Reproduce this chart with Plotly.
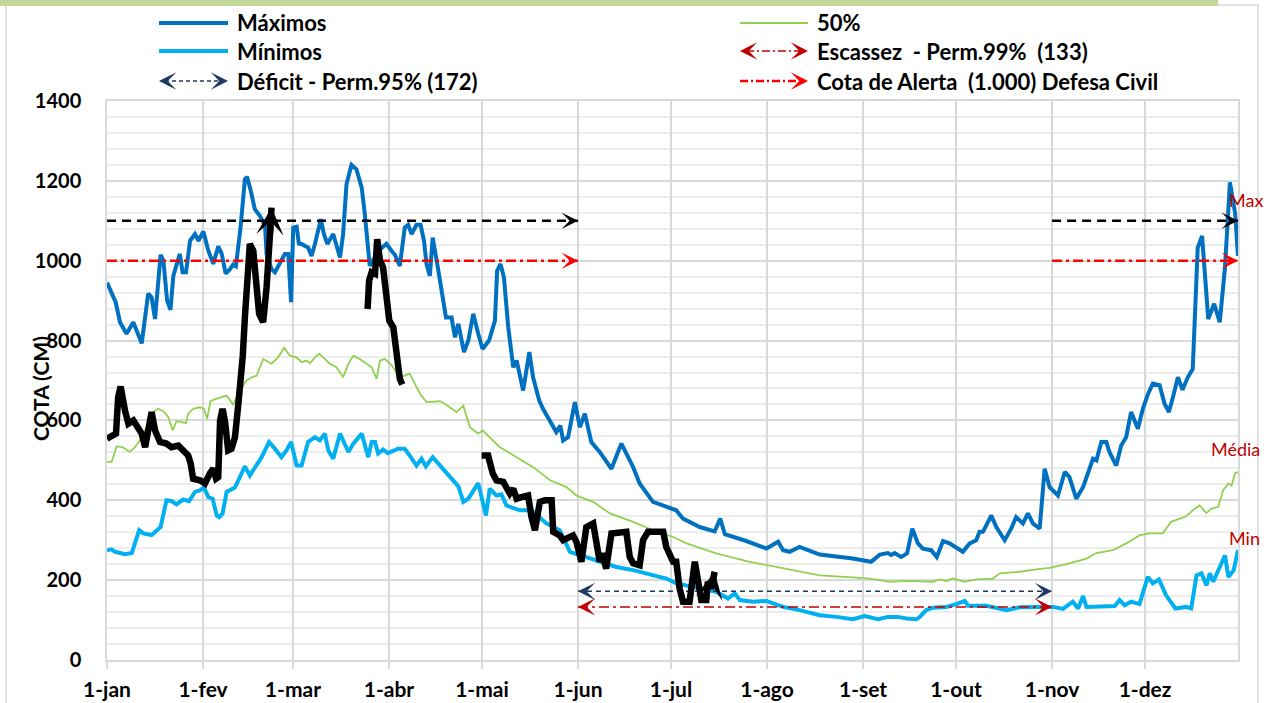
import pandas as pd
import plotly.graph_objects as go

# ---------------- DATA ----------------
ANO_BASE = "2020-01-01"
meses_rotulo = ["1-jan", "1-fev", "1-mar", "1-abr", "1-mai", "1-jun",
                "1-jul", "1-ago", "1-set", "1-out", "1-nov", "1-dez"]
meses_inicio = ["2020-01-01", "2020-02-01", "2020-03-01", "2020-04-01", "2020-05-01", "2020-06-01",
                "2020-07-01", "2020-08-01", "2020-09-01", "2020-10-01", "2020-11-01", "2020-12-01"]

# Máximos (dia do ano, cota cm)
max_dia = [0, 2, 2.8, 4.2, 6.3, 8.5, 11.2, 13.3, 14.4, 15.5, 17.3, 18.2, 19.4, 20.5, 21.4, 23.5, 24.4, 25.5,
           26.8, 28.4, 29.5, 31.1, 32.7, 34.3, 35.9, 37, 38.3, 39.7, 40.7, 41.6, 43.1, 44.5, 45.2, 46.4, 47.7,
           49.4, 51, 51.5, 53.1, 54.2, 55.8, 57.4, 58.5, 59.4, 60.1, 61.2, 61.9, 62.8, 63.9, 64.9, 66, 67.1, 69,
           70, 71.1, 73, 75.2, 76.2, 77.3, 78.9, 80.5, 82.2, 83.2, 84.3, 84.8, 88.1, 90.2, 91.8, 92.9, 94.5, 96.1,
           97.2, 98.3, 99.9, 101.2, 102.3, 103.1, 104.2, 105.1, 106.4, 108, 109.4, 111.2, 112.3, 113.4, 115.2,
           116.6, 118.2, 119.8, 121.2, 123.3, 125.2, 125.9, 127, 128.1, 129.5, 131.1, 132.2, 134.3, 136.3, 137.5,
           139.5, 140.7, 145, 146.3, 147.2, 148.8, 151, 152.6, 154.2, 156.3, 159, 162.8, 166, 169.8, 171.9,
           176.2, 180.5, 183.7, 185.9, 191.3, 196.1, 197.9, 199.4, 206.3, 212.8, 216.6, 218.2, 220.3, 223.5,
           230, 240.7, 246.6, 249.4, 252, 253.1, 254.2, 256.3, 258.2, 259.9, 261.7, 263.3, 266, 267.8, 269.8,
           271.9, 276.2, 278.4, 280.5, 281.6, 282.7, 285.4, 287, 289.7, 291.8, 293.4, 295.6, 297.2, 298.8, 301,
           302.6, 304.2, 306.9, 309.1, 310.6, 312.8, 315, 318.2, 319.3, 320.9, 322.5, 323.5, 325.7, 327.3,
           328.9, 330.5, 332.7, 334.3, 335.9, 337.5, 339.7, 341.3, 342.7, 344, 345.6, 347.1, 348.8, 350.4,
           351.1, 352, 353.4, 354.3, 355.4, 357.3, 359.1, 360.8, 362.4, 364.1, 365]
max_cota = [945, 908, 896, 846, 817, 846, 793, 918, 908, 854, 1015, 1000, 900, 877, 962, 1017, 971, 971,
            1050, 1067, 1050, 1073, 1025, 992, 1036, 1018, 968, 979, 990, 986, 1083, 1204, 1210, 1175, 1129,
            1112, 1087, 1017, 979, 971, 992, 1017, 1017, 896, 1083, 1085, 1043, 1042, 1037, 1033, 1012, 1042, 1104,
            1067, 1042, 1067, 1008, 1067, 1192, 1240, 1229, 1183, 1117, 1017, 987, 1029, 1042, 1025, 1015, 987, 1083,
            1090, 1067, 1090, 1090, 1050, 992, 962, 1058, 1000, 917, 858, 858, 808, 842, 771,
            800, 867, 817, 779, 800, 850, 975, 992, 958, 833, 733, 750, 675, 771, 708,
            650, 629, 571, 587, 550, 558, 646, 583, 617, 546, 521, 479, 542, 483, 442,
            396, 383, 375, 354, 333, 322, 354, 315, 298, 279, 296, 275, 271, 283,
            264, 254, 246, 264, 268, 263, 268, 258, 267, 329, 292, 279, 275, 258, 298,
            292, 271, 292, 300, 321, 321, 362, 333, 300, 329, 358, 342, 367, 342, 329,
            479, 433, 412, 471, 458, 404, 433, 504, 500, 546, 546, 521, 487, 537,
            558, 621, 579, 629, 665, 692, 688, 642, 621, 658, 708, 677, 708, 729,
            858, 1033, 1062, 967, 854, 892, 846, 983, 1196, 1117, 1012]

# Mínimos
min_dia = [0, 1.5, 2.6, 5.8, 8, 9, 10.4, 11.7, 14.4, 17.3, 19.2, 20.8, 22.4, 24.6, 26.5, 28.4, 30, 31.3, 32.7,
           34.1, 35.4, 36.2, 37.3, 38.6, 41.3, 44.5, 46.1, 49.9, 52.3, 54.2, 56.3, 57.9, 59.4, 61.2, 62.8, 64.9,
           67.1, 68.7, 70.3, 71.4, 73, 75.2, 77.9, 79.5, 82.2, 84.3, 85.4, 86.5, 87.5, 89.1, 90.7, 93.9, 96.1,
           97.7, 99.9, 101.5, 102.9, 105.1, 108.5, 113.4, 115, 116.6, 119.8, 122.3, 123.5, 125.7, 127.3, 128.9,
           133.2, 137, 141.8, 146.1, 149.4, 154.7, 159, 164.4, 169.8, 176.2, 180.5, 183.7, 191.3, 196.6, 200.4,
           202.6, 204.2, 208.5, 212.8, 218.2, 223.5, 230, 235.4, 240.7, 244.5, 248.8, 252, 255.3, 258, 261.2,
           262.3, 264.4, 266.6, 270.9, 274.1, 276.8, 277.9, 283.8, 290.3, 294.5, 299.9, 305.3, 308.5, 311.7,
           313.4, 315, 316.1, 321.4, 325.2, 326.8, 328.4, 330.5, 333.2, 335.9, 337.5, 339.5, 341.8, 344.8,
           348.3, 349.9, 351.6, 353.2, 354.8, 355.9, 357, 360.8, 361.9, 363.6, 365]
min_cota = [275, 277, 271, 265, 268, 292, 325, 317, 313, 333, 400, 398, 390, 402, 398, 421, 425, 432, 408,
            404, 362, 358, 367, 421, 432, 485, 462, 508, 546, 529, 508, 525, 546, 487, 487, 546,
            558, 550, 567, 525, 504, 567, 521, 542, 567, 508, 546, 546, 517, 527, 518, 529, 529,
            512, 487, 504, 485, 508, 477, 435, 396, 404, 443, 362, 429, 412, 415, 387,
            375, 375, 342, 325, 271, 258, 246, 233, 225, 212, 204, 192, 179, 171, 154,
            167, 150, 146, 148, 133, 125, 112, 108, 102, 110, 102, 108, 108, 104, 102,
            108, 125, 131, 133, 140, 148, 136, 136, 125, 132, 133, 133, 128, 146,
            129, 160, 133, 133, 135, 150, 137, 146, 140, 208, 192, 202, 162, 129,
            133, 129, 212, 217, 187, 217, 196, 262, 208, 225, 275]

# 50%
med_dia = [0, 1.5, 3.1, 5, 7.4, 9, 10.6, 12.8, 14.9, 16.5, 18.2, 19.8, 21.2, 22.4, 24, 25.5, 26.2, 27.8, 30,
           31.3, 32.3, 33.4, 35.2, 37.3, 38.6, 40.7, 42.9, 45, 46.7, 48.3, 50.4, 53.1, 55.2, 57.2, 59, 61.2,
           62.8, 64.4, 65.5, 67.1, 68.5, 70.3, 71.9, 74.1, 76.2, 77.9, 79.5, 81.6, 83.8, 85.4, 87, 88.1, 89.7,
           91.9, 94.5, 97.7, 101, 103.1, 107.4, 109, 112.8, 115, 117.1, 119.8, 121.2, 124.6, 126.8, 132.2,
           137.5, 143, 148.3, 151.5, 156.9, 162.3, 169.8, 176.2, 182.7, 187, 196.6, 207.4, 218.2, 223.5, 230,
           240.7, 246.1, 249.4, 252.6, 258, 266.6, 268.7, 270.9, 273, 276.8, 280.5, 285.9, 288.1, 294.5,
           299.9, 304.2, 310.6, 316.1, 319.3, 324.6, 328.9, 333.2, 336.4, 340.7, 343.4, 348.3, 351, 352.6,
           354.8, 356.4, 358.6, 360.2, 361.9, 362.9, 364.1, 365]
med_cota = [496, 496, 535, 533, 521, 533, 550, 583, 621, 629, 623, 608, 575, 598, 596, 593, 617, 629, 633,
            629, 604, 648, 654, 658, 662, 640, 675, 700, 708, 712, 754, 742, 758, 782, 762, 758,
            746, 750, 743, 758, 767, 754, 742, 733, 708, 742, 762, 754, 742, 733, 704, 750, 754,
            738, 708, 717, 667, 646, 648, 642, 621, 637, 583, 567, 575, 550, 533, 508,
            483, 450, 433, 412, 396, 367, 346, 325, 308, 292, 267, 246, 229, 221, 212,
            207, 204, 200, 196, 198, 196, 202, 198, 204, 196, 202, 204, 217, 221,
            227, 231, 242, 254, 268, 275, 292, 312, 317, 317, 346, 360, 379, 387,
            368, 379, 383, 425, 442, 437, 468, 471]

# Ano atual (linha preta), três trechos
atual1_dia = [0, 1.5, 2.9, 3.6, 4.4, 5.8, 6.9, 8.5, 10.1, 11.2, 12.3, 13.3, 14.4, 15.5, 17.1, 19.2, 20.8, 23,
              24.6, 26.2, 27, 27.8, 30, 31.6, 33.2, 34.3, 35.2, 35.9, 36.5, 37.3, 38.1, 39.1, 40.2, 41.3, 42.4,
              43.2, 43.8, 44.5, 45.2, 46.1, 47.2, 48.3, 49.1, 50.4, 51.5, 52.6, 53.1]
atual1_cota = [554, 562, 567, 658, 685, 625, 592, 600, 583, 567, 533, 567, 621, 575, 546, 542, 533, 537,
               525, 512, 492, 454, 450, 442, 467, 479, 454, 458, 600, 629, 596, 525, 529, 558, 642,
               700, 760, 858, 950, 1042, 1025, 925, 867, 846, 933, 1067, 1133]
atual2_dia = [84.1, 84.6, 85.4, 86.5, 87.2, 88.1, 89.1, 90.2, 91.1, 92.4, 93.5, 94.5, 95.3]
atual2_cota = [879, 950, 971, 967, 1054, 1000, 983, 900, 850, 833, 758, 704, 690]
atual3_dia = [120.9, 123, 124.5, 125.7, 127.9, 128.9, 130, 131.1, 132.2, 133.8, 135.9, 137, 138.1, 139.7,
              141.3, 143.5, 144, 146.1, 147.2, 150.4, 151.5, 153.1, 154.7, 156.9, 159, 159.8, 161.1, 162.8,
              165.4, 167.6, 168.7, 169.8, 171.9, 173, 174.6, 179.5, 180.5, 181.6, 182.7, 183.7, 184.8, 185.9,
              188, 189.7, 190.7, 191.8, 193.4, 193.9, 195, 196.1]
atual3_cota = [512, 512, 467, 450, 446, 429, 417, 429, 404, 408, 412, 358, 325, 396,
               400, 400, 321, 312, 300, 312, 296, 246, 333, 342, 246, 267, 229, 317,
               321, 321, 258, 242, 237, 300, 321, 321, 283, 267, 246, 246, 179, 146,
               146, 246, 208, 150, 150, 196, 179, 221]

# Cotas de referência
cota_inundacao = 1100
cota_alerta = 1000
cota_deficit = 172
cota_escassez = 133
periodo_cheia = [("2020-01-01", "2020-06-01"), ("2020-11-01", "2020-12-31")]
periodo_seca = ("2020-06-01", "2020-11-01")

# ---------------- FIGURE ----------------
FONT = "Lato"
W, H = 1266, 703
ML, MR, MT, MB = 107, 28, 101, 43
PW, PH = W - ML - MR, H - MT - MB
NB = "\u00a0"


def to_date(days):
    return pd.Timestamp(ANO_BASE) + pd.to_timedelta(days, unit="D")


def pxx(px):
    return (px - ML) / PW


def pxy(py):
    return (H - MB - py) / PH


C_MAX, C_MIN, C_MED = "#0070C0", "#00B0F0", "#92D050"
C_NAVY, C_DRED, C_RED = "#1F3864", "#C00000", "#FF0000"
DASH_DOT = "10px,4px,3px,4px"

fig = go.Figure()

fig.add_trace(go.Scatter(x=to_date(max_dia), y=max_cota, mode="lines", name="Máximos",
                         line=dict(color=C_MAX, width=4)))
fig.add_trace(go.Scatter(x=to_date(min_dia), y=min_cota, mode="lines", name="Mínimos",
                         line=dict(color=C_MIN, width=4)))
fig.add_trace(go.Scatter(x=to_date(med_dia), y=med_cota, mode="lines", name="50%",
                         line=dict(color=C_MED, width=1.8)))

annotations = []

# reference lines
for (a, b) in periodo_cheia:
    fig.add_trace(go.Scatter(x=[a, b], y=[cota_inundacao] * 2, mode="lines",
                             line=dict(color="black", width=2.5, dash="9px,6px")))
    fig.add_trace(go.Scatter(x=[a, b], y=[cota_alerta] * 2, mode="lines",
                             line=dict(color=C_RED, width=2.5, dash=DASH_DOT)))
    for val, col in ((cota_inundacao, "black"), (cota_alerta, C_RED)):
        annotations.append(dict(x=b, y=val, xref="x", yref="y", ax=-8, ay=0, text="",
                                showarrow=True, arrowhead=3, arrowsize=1.1, arrowwidth=2.5,
                                arrowcolor=col))

a, b = periodo_seca
fig.add_trace(go.Scatter(x=[a, b], y=[cota_deficit] * 2, mode="lines",
                         line=dict(color=C_NAVY, width=1.5, dash="5px,4px")))
fig.add_trace(go.Scatter(x=[a, b], y=[cota_escassez] * 2, mode="lines",
                         line=dict(color=C_DRED, width=1.5, dash=DASH_DOT)))
for val, col in ((cota_deficit, C_NAVY), (cota_escassez, C_DRED)):
    annotations.append(dict(x=b, y=val, xref="x", yref="y", ax=-8, ay=0, text="",
                            showarrow=True, arrowhead=3, arrowsize=1.6, arrowwidth=1.8, arrowcolor=col))
    annotations.append(dict(x=a, y=val, xref="x", yref="y", ax=8, ay=0, text="",
                            showarrow=True, arrowhead=3, arrowsize=1.6, arrowwidth=1.8, arrowcolor=col))

# current year (black)
for d, v in ((atual1_dia, atual1_cota), (atual2_dia, atual2_cota), (atual3_dia, atual3_cota)):
    xs = to_date(d)
    fig.add_trace(go.Scatter(x=xs, y=v, mode="lines", line=dict(color="black", width=6.5)))
    annotations.append(dict(x=xs[-1].isoformat(), y=v[-1], xref="x", yref="y",
                            ax=xs[-2].isoformat(), ay=v[-2], axref="x", ayref="y", text="",
                            showarrow=True, arrowhead=3, arrowsize=0.7, arrowwidth=6.5,
                            arrowcolor="black"))

# ---------------- LEGEND (manual) ----------------
shapes = []
LEG_FONT = dict(family=FONT, size=22, color="black", weight="bold")
rows = [23, 51, 81]
left_items = [("Máximos", C_MAX, 4, "solid", (False, False)),
              ("Mínimos", C_MIN, 4, "solid", (False, False)),
              ("Déficit - Perm.95% (172)", C_NAVY, 1.5, "4px,3px", (True, True))]
right_items = [("50%", C_MED, 2, "solid", (False, False)),
               ("Escassez " + NB + "- Perm.99% " + NB + "(133)", C_DRED, 1.5, "8px,3px,2px,3px", (True, True)),
               ("Cota de Alerta " + NB + "(1.000) Defesa Civil", C_RED, 2.5, "8px,3px,2px,3px", (False, True))]
for (x0, x1, xt), items in (((159, 228, 235), left_items), ((740, 808, 815), right_items)):
    for y, (txt, col, w, dash, (la, ra)) in zip(rows, items):
        shapes.append(dict(type="line", xref="paper", yref="paper",
                           x0=pxx(x0 + (6 if la else 0)), x1=pxx(x1 - (6 if ra else 0)),
                           y0=pxy(y), y1=pxy(y), line=dict(color=col, width=w, dash=dash)))
        if la:
            annotations.append(dict(x=pxx(x0), y=pxy(y), xref="paper", yref="paper", ax=8, ay=0,
                                    text="", showarrow=True, arrowhead=3, arrowsize=1.6,
                                    arrowwidth=1.8, arrowcolor=col))
        if ra:
            annotations.append(dict(x=pxx(x1), y=pxy(y), xref="paper", yref="paper", ax=-8, ay=0,
                                    text="", showarrow=True, arrowhead=3, arrowsize=1.6,
                                    arrowwidth=1.8, arrowcolor=col))
        annotations.append(dict(x=pxx(xt), y=pxy(y), xref="paper", yref="paper", text="<b>" + txt + "</b>",
                                showarrow=False, xanchor="left", yanchor="middle", font=LEG_FONT))

# axis title and side labels
annotations.append(dict(x=pxx(40), y=pxy(389), xref="paper", yref="paper", text="<b>COTA (CM)</b>",
                        textangle=-90, showarrow=False, xanchor="center", yanchor="middle",
                        font=dict(family=FONT, size=21, weight="bold", color="black")))
LBL = dict(family=FONT, size=18, color=C_DRED)
annotations.append(dict(x=pxx(1227), y=pxy(200), xref="paper", yref="paper", text="Max",
                        showarrow=False, xanchor="left", yanchor="middle", font=LBL))
annotations.append(dict(x=pxx(1209), y=pxy(449), xref="paper", yref="paper", text="Média",
                        showarrow=False, xanchor="left", yanchor="middle", font=LBL))
annotations.append(dict(x=pxx(1227), y=pxy(538), xref="paper", yref="paper", text="Min",
                        showarrow=False, xanchor="left", yanchor="middle", font=LBL))

# frame decorations
shapes.append(dict(type="rect", xref="paper", yref="paper", x0=pxx(6), x1=pxx(1258),
                   y0=pxy(710), y1=pxy(5), line=dict(color="#D9D9D9", width=1.5), layer="below"))
shapes.append(dict(type="rect", xref="paper", yref="paper", x0=pxx(0), x1=pxx(1218),
                   y0=pxy(6), y1=pxy(0), line=dict(width=0), fillcolor="#C4D79B", layer="below"))

XTICK_FONT = dict(family=FONT, size=21, color="black", weight="bold")
YTICK_FONT = dict(family=FONT, size=20, color="black", weight="bold")
fig.update_layout(
    width=W, height=H,
    margin=dict(l=ML, r=MR, t=MT, b=MB),
    paper_bgcolor="white", plot_bgcolor="white",
    showlegend=False,
    shapes=shapes, annotations=annotations,
    xaxis=dict(type="date", range=["2020-01-01", "2020-12-31"], automargin=False,
               tickvals=meses_inicio, ticktext=meses_rotulo, tickfont=XTICK_FONT,
               showgrid=True, gridcolor="#D9D9D9", gridwidth=1.5,
               ticks="outside", ticklen=7, tickcolor="#D9D9D9", tickwidth=1.5,
               ticklabelstandoff=3,
               showline=True, linecolor="#D9D9D9", linewidth=1.5, mirror=True, zeroline=False),
    yaxis=dict(range=[0, 1400], tick0=0, dtick=200, tickfont=YTICK_FONT, automargin=False,
               showgrid=True, gridcolor="#D9D9D9", gridwidth=1.5,
               minor=dict(dtick=40, showgrid=True, gridcolor="#EDEDED", gridwidth=1.5),
               ticks="", ticklabelstandoff=20,
               showline=True, linecolor="#D9D9D9", linewidth=1.5, mirror=True, zeroline=False),
)

fig.write_html("out.html", config={"displayModeBar": False},
               post_script="document.body.style.margin='0px';document.body.style.overflow='hidden';")
